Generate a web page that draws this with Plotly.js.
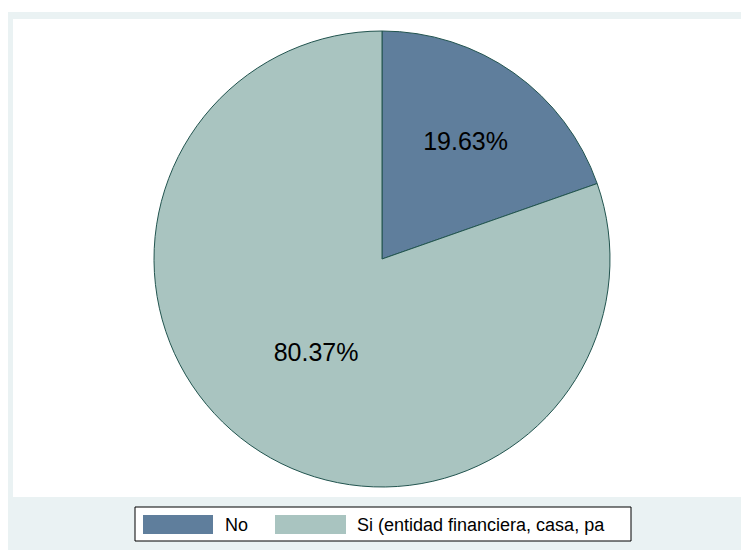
<!DOCTYPE html>
<html>
<head>
<meta charset="utf-8">
<script src="https://cdn.plot.ly/plotly-3.0.1.min.js"></script>
<style>html,body{margin:0;padding:0;background:#fff;}#chart{width:741px;height:550px;}</style>
</head>
<body>
<div id="chart"></div>
<script>
const categories = ["No", "Si (entidad financiera, casa, pa"];
const shares = [19.63, 80.37];
const sliceColors = ["#5F7E9C", "#A9C4C0"];

const W = 741, H = 550;
const px = x => x / W;
const py = y => 1 - y / H;

const trace = {
  type: "pie",
  labels: categories,
  values: shares,
  sort: false,
  direction: "clockwise",
  rotation: 0,
  marker: {colors: sliceColors, line: {color: "#22544F", width: 1}},
  textinfo: "percent",
  texttemplate: "%{value:.2f}%",
  textposition: "inside",
  insidetextorientation: "horizontal",
  textfont: {family: "Liberation Sans, Arial, sans-serif", size: 25, color: "#000"},
  hoverinfo: "none",
  showlegend: false,
  domain: {x: [px(154), px(610)], y: [py(487), py(31)]}
};

const shapes = [
  {type: "rect", xref: "paper", yref: "paper", x0: px(8), x1: px(741), y0: py(550), y1: py(12), fillcolor: "#EAF2F3", line: {width: 0}, layer: "below"},
  {type: "rect", xref: "paper", yref: "paper", x0: px(13), x1: px(741), y0: py(497), y1: py(19), fillcolor: "#FFFFFF", line: {width: 0}, layer: "below"},
  {type: "rect", xref: "paper", yref: "paper", x0: px(135), x1: px(631), y0: py(541), y1: py(507), fillcolor: "#FFFFFF", line: {color: "#000", width: 1}, layer: "below"},
  {type: "rect", xref: "paper", yref: "paper", x0: px(143), x1: px(213), y0: py(534), y1: py(515), fillcolor: sliceColors[0], line: {width: 0}},
  {type: "rect", xref: "paper", yref: "paper", x0: px(275), x1: px(346), y0: py(534), y1: py(515), fillcolor: sliceColors[1], line: {width: 0}}
];

const annotations = [
  {xref: "paper", yref: "paper", x: px(223), y: py(525), xanchor: "left", yanchor: "middle", text: categories[0], showarrow: false, font: {family: "Liberation Sans, Arial, sans-serif", size: 18, color: "#000"}},
  {xref: "paper", yref: "paper", x: px(355), y: py(525), xanchor: "left", yanchor: "middle", text: categories[1], showarrow: false, font: {family: "Liberation Sans, Arial, sans-serif", size: 18, color: "#000"}}
];

const layout = {
  width: W, height: H,
  margin: {l: 0, r: 0, t: 0, b: 0},
  paper_bgcolor: "#FFFFFF",
  plot_bgcolor: "#FFFFFF",
  showlegend: false,
  shapes: shapes,
  annotations: annotations
};

Plotly.newPlot("chart", [trace], layout, {staticPlot: true});
</script>
</body>
</html>
